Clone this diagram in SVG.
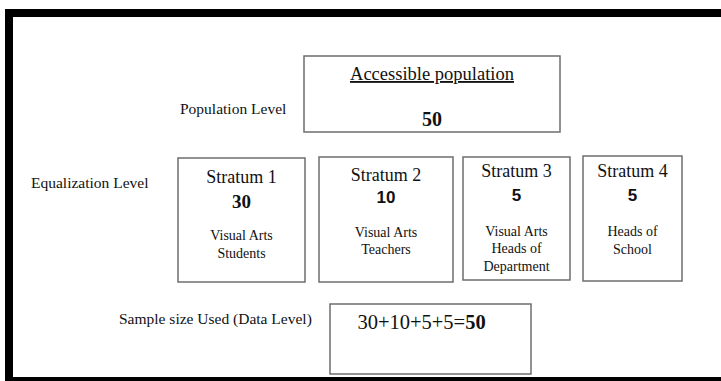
<svg xmlns="http://www.w3.org/2000/svg" width="721" height="381" viewBox="0 0 721 381">
<style>
.frame{fill:#000}
.box{fill:#fff;stroke:#6e6e6e;stroke-width:1.5}
text{font-family:"Liberation Serif","Times New Roman",serif;fill:#111;text-anchor:middle}
.lbl{font-size:15.5px;text-anchor:start}
.st{font-size:18px}
.num{font-size:19px;font-weight:bold}
.nums{font-family:"Liberation Sans",Arial,sans-serif;font-size:17px;font-weight:bold}
.desc{font-size:14px}
</style>
<rect width="721" height="381" fill="#fff"/>
<g id="frame">
<rect class="frame" x="5" y="9" width="716" height="8"/>
<rect class="frame" x="5" y="9" width="8" height="372"/>
<rect class="frame" x="5" y="377" width="716" height="4"/>
</g>
<g id="labels">
<text class="lbl" x="180" y="114">Population Level</text>
<text class="lbl" x="31" y="188">Equalization Level</text>
<text class="lbl" x="119" y="324">Sample size Used (Data Level)</text>
</g>
<g id="population">
<rect class="box" x="304" y="56" width="256" height="76"/>
<text x="432" y="80" style="font-size:18.5px;text-decoration:underline">Accessible population</text>
<text class="num" x="432" y="126" style="font-size:20px">50</text>
</g>
<g id="stratum1">
<rect class="box" x="178" y="158" width="127" height="124"/>
<text class="st" x="241.5" y="183">Stratum 1</text>
<text class="num" x="241.5" y="208">30</text>
<text class="desc" x="241.5" y="240">Visual Arts</text>
<text class="desc" x="241.5" y="258">Students</text>
</g>
<g id="stratum2">
<rect class="box" x="319" y="157" width="134" height="125"/>
<text class="st" x="386" y="181">Stratum 2</text>
<text class="nums" x="386" y="203">10</text>
<text class="desc" x="386" y="237">Visual Arts</text>
<text class="desc" x="386" y="254">Teachers</text>
</g>
<g id="stratum3">
<rect class="box" x="463" y="157" width="107" height="123"/>
<text class="st" x="516.5" y="177">Stratum 3</text>
<text class="nums" x="516.5" y="201">5</text>
<text class="desc" x="516.5" y="236">Visual Arts</text>
<text class="desc" x="516.5" y="253">Heads of</text>
<text class="desc" x="516.5" y="271">Department</text>
</g>
<g id="stratum4">
<rect class="box" x="583" y="156" width="99" height="125"/>
<text class="st" x="632.5" y="177">Stratum 4</text>
<text class="nums" x="632.5" y="201">5</text>
<text class="desc" x="632.5" y="236">Heads of</text>
<text class="desc" x="632.5" y="254">School</text>
</g>
<g id="sample">
<rect class="box" x="330" y="304" width="201" height="70"/>
<text x="421.5" y="329" style="font-size:20.5px">30+10+5+5=<tspan font-weight="bold">50</tspan></text>
</g>
<g id="connectors"></g>
</svg>
